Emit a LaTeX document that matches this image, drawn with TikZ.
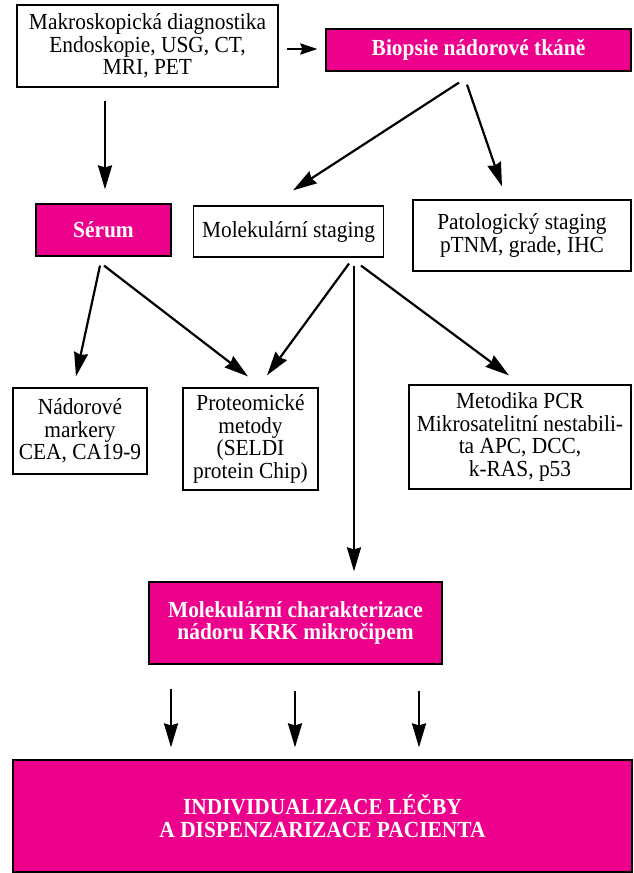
\documentclass[tikz,border=0pt]{standalone}
\usepackage{fontspec}
\setmainfont[FakeStretch=0.93]{Liberation Serif}
\usetikzlibrary{arrows.meta,calc}
\definecolor{mag}{RGB}{236,0,140}
\begin{document}
\begin{tikzpicture}[x=1pt,y=-1pt,
 box/.style={draw=black,line width=1.2pt,fill=white,align=center,inner sep=0pt,font=\fontsize{23}{22.5}\selectfont},
 mbox/.style={box,fill=mag,text=white,font=\fontsize{23}{22.5}\selectfont\bfseries},
 arr/.style={line width=2.2pt,-{Stealth[length=24pt,width=14pt,inset=2pt]}},
 sarr/.style={line width=2.5pt,-{Stealth[length=17pt,width=11pt,inset=2pt]}}]
\useasboundingbox (0,0) rectangle (634,873);
\node[box,minimum width=261pt,minimum height=82pt] (makro) at (147.5,46) {Makroskopická diagnostika\\Endoskopie, USG, CT,\\MRI, PET};
\node[mbox,minimum width=305pt,minimum height=42pt] (biopsie) at (478.5,50) {Biopsie nádorové tkáně};
\node[mbox,minimum width=135pt,minimum height=52pt] (serum) at (103.5,230) {Sérum};
\node[box,minimum width=190pt,minimum height=51pt] (molstag) at (288.5,231.5) {Molekulární staging};
\node[box,minimum width=218pt,minimum height=71pt] (patol) at (522,235.5) {Patologický staging\\pTNM, grade, IHC};
\node[box,minimum width=134pt,minimum height=86pt] (nador) at (80,431) {Nádorové\\markery\\CEA, CA19-9};
\node[box,minimum width=135pt,minimum height=102pt] (proteo) at (250.5,439) {Proteomické\\metody\\(SELDI\\protein Chip)};
\node[box,minimum width=222pt,minimum height=104pt] (metod) at (520,437) {Metodika PCR\\Mikrosatelitní nestabili-\\ta APC, DCC,\\k-RAS, p53};
\node[mbox,minimum width=293pt,minimum height=82pt] (molchar) at (295.5,623) {Molekulární charakterizace\\nádoru KRK mikročipem};
\node[mbox,minimum width=619pt,minimum height=112pt] (final) at (322.5,816) {INDIVIDUALIZACE LÉČBY\\A DISPENZARIZACE PACIENTA};
% connectors
\draw[sarr] ($(makro.east)+(8,3)$) -- ($(biopsie.west)+(-8,-1)$);
\draw[arr] ($(makro.south)+(-42.5,13)$) -- ($(serum.north)+(1.5,-14)$);
\draw[arr] ($(biopsie.south)+(-19.5,11)$) -- ($(molstag.north)+(4.5,-15)$);
\draw[arr] ($(biopsie.south)+(-11.5,13)$) -- ($(patol.north)+(-20,-13)$);
\draw[arr] ($(serum.south)+(-3.5,9)$) -- ($(nador.north)+(-4,-11)$);
\draw[arr] ($(serum.south)+(0.5,9)$) -- ($(proteo.north)+(-2.5,-11)$);
\draw[arr] ($(molstag.south)+(60.5,6)$) -- ($(proteo.north)+(16.5,-12)$);
\draw[arr] ($(molstag.south)+(65.5,8)$) -- ($(molchar.north)+(58.5,-10)$);
\draw[arr] ($(molstag.south)+(72.5,8)$) -- ($(metod.north)+(-11,-9)$);
\draw[arr] ($(molchar.south)+(-124.5,24)$) -- ($(final.north)+(-151.5,-12)$);
\draw[arr] ($(molchar.south)+(-0.5,26)$) -- ($(final.north)+(-27.5,-12)$);
\draw[arr] ($(molchar.south)+(123.5,26)$) -- ($(final.north)+(96.5,-12)$);
\end{tikzpicture}
\end{document}
